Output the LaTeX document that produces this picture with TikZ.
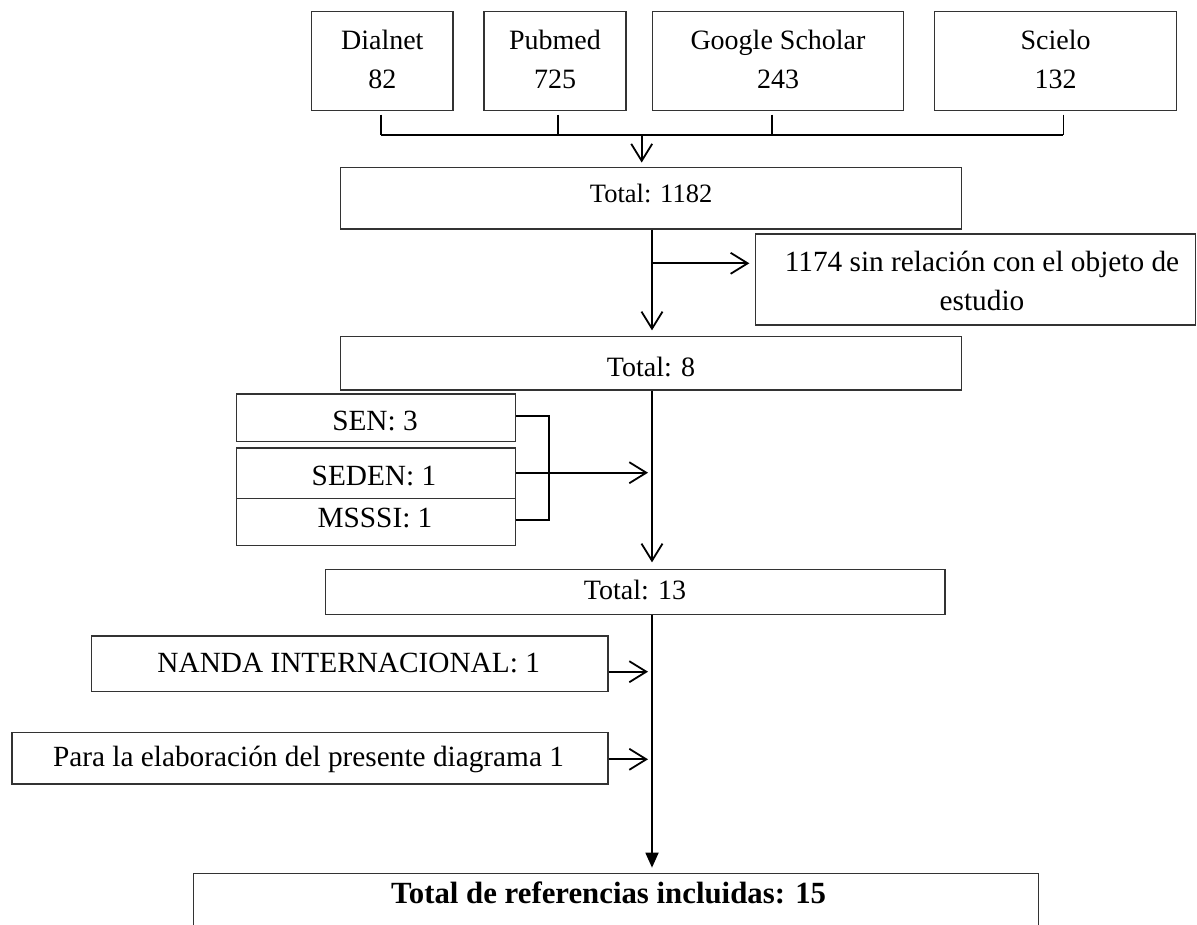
\documentclass[tikz,border=0pt]{standalone}
\usepackage{fontspec}
\setmainfont{Liberation Serif}
\usetikzlibrary{arrows.meta,calc}
\begin{document}
\begin{tikzpicture}[x=1pt,y=-1pt,
  box/.style={draw=black!80, line width=1.3pt, inner sep=0pt, minimum width=#1},
  conn/.style={line width=1.8pt, black},
  barb/.style={-{Straight Barb[length=17pt,width=21pt]}},
  tri/.style={-{Triangle[length=15pt,width=13pt]}},
  txt/.style={anchor=base, inner sep=0pt, font=\fontsize{28}{34}\selectfont},
  txtl/.style={anchor=base, inner sep=0pt, font=\fontsize{29.3}{35}\selectfont},
  txts/.style={anchor=base, inner sep=0pt, font=\fontsize{26.5}{32}\selectfont},
  txtb/.style={anchor=base, inner sep=0pt, font=\fontsize{30.8}{37}\selectfont\bfseries}]
\useasboundingbox (0,0) rectangle (1197,924);
% boxes
\node[box=141.3pt, minimum height=99pt] (dialnet) at (382.3,61.2) {};
\node[box=142pt, minimum height=99pt] (pubmed) at (555,61.2) {};
\node[box=251.2pt, minimum height=99pt] (google) at (778,61.2) {};
\node[box=241.6pt, minimum height=99pt] (scielo) at (1055.6,61.2) {};
\node[box=620.8pt, minimum height=61.3pt] (t1182) at (651.1,198.35) {};
\node[box=440pt, minimum height=91pt] (t1174) at (975.5,279.5) {};
\node[box=620.8pt, minimum height=53.3pt] (t8) at (651.1,363.35) {};
\node[box=279pt, minimum height=47.7pt] (sen) at (376.2,417.85) {};
\node[box=279pt, minimum height=50.3pt] (seden) at (376.2,473.15) {};
\node[box=279pt, minimum height=47.4pt] (msssi) at (376.2,522) {};
\node[box=619.3pt, minimum height=45pt] (t13) at (635.35,591.8) {};
\node[box=516.3pt, minimum height=55.7pt] (nanda) at (349.85,663.85) {};
\node[box=596pt, minimum height=51.7pt] (para) at (310,758.15) {};
\node[box=845.3pt, minimum height=56pt] (final) at (615.85,901.3) {};
% texts
\node[txt] (dialnet1) at (382.3,49.3) {Dialnet};
\node[txt] (dialnet2) at (382.3,88.3) {82};
\node[txt] (pubmed1) at (555,49.3) {Pubmed};
\node[txt] (pubmed2) at (555,88.3) {725};
\node[txt] (google1) at (778,49.3) {Google Scholar};
\node[txt] (google2) at (778,88.3) {243};
\node[txt] (scielo1) at (1055.6,49.3) {Scielo};
\node[txt] (scielo2) at (1055.6,88.3) {132};
\node[txts] (t1182t) at (651.1,202.3) {Total: 1182};
\node[txtl] (t1174a) at (982,271.7) {1174 sin relación con el objeto de};
\node[txtl] (t1174b) at (982,310) {estudio};
\node[txt] (t8t) at (651.1,376.7) {Total: 8};
\node[txtl] (sent) at (375,430) {SEN: 3};
\node[txtl] (sedent) at (374,485) {SEDEN: 1};
\node[txtl] (msssit) at (375,527.3) {MSSSI: 1};
\node[txt] (t13t) at (635,599) {Total: 13};
\node[txtl] (nandat) at (348.7,672.7) {NANDA INTERNACIONAL: 1};
\node[txtl] (parat) at (308.5,766.7) {Para la elaboración del presente diagrama 1};
\node[txtb] (finalt) at (608.6,903.3) {Total de referencias incluidas: 15};
% coordinates
\coordinate (busD) at (380.7,135);
\coordinate (busP) at (557.7,135);
\coordinate (busG) at (772,135);
\coordinate (busS) at (1063.4,135);
\coordinate (arrTop) at (641.7,135);
\coordinate (trunk) at (652,0);
\coordinate (b1174) at (652,263.3);
\coordinate (brT) at (549.3,415.7);
\coordinate (brB) at (549.3,520);
\coordinate (ySed) at (0,472.7);
\coordinate (yNan) at (0,671.7);
\coordinate (yPar) at (0,759.3);
% connectors
\draw[conn] ($(dialnet.south -| busD)+(0,3.3)$) -- (busD);
\draw[conn] ($(pubmed.south -| busP)+(0,3.3)$) -- (busP);
\draw[conn] ($(google.south -| busG)+(0,3.3)$) -- (busG);
\draw[conn] ($(scielo.south -| busS)+(0,3.3)$) -- (busS);
\draw[conn] (busD) -- (busS);
\draw[conn,barb,shorten >=4.5pt] (arrTop) -- (t1182.north -| arrTop);
\draw[conn,barb,shorten >=5.7pt] (t1182.south -| trunk) -- (t8.north -| trunk);
\draw[conn,barb,shorten >=5.5pt] (b1174) -- (b1174 -| t1174.west);
\draw[conn] (brT -| sen.east) -- (brT) -- (brB) -- (brB -| msssi.east);
\draw[conn,barb,shorten >=4pt] (seden.east |- ySed) -- (trunk |- ySed);
\draw[conn,barb,shorten >=6.3pt] (t8.south -| trunk) -- (t13.north -| trunk);
\draw[conn,tri,shorten >=5pt] (t13.south -| trunk) -- (final.north -| trunk);
\draw[conn,barb,shorten >=4pt] (nanda.east |- yNan) -- (trunk |- yNan);
\draw[conn,barb,shorten >=4pt] (para.east |- yPar) -- (trunk |- yPar);
\end{tikzpicture}
\end{document}
